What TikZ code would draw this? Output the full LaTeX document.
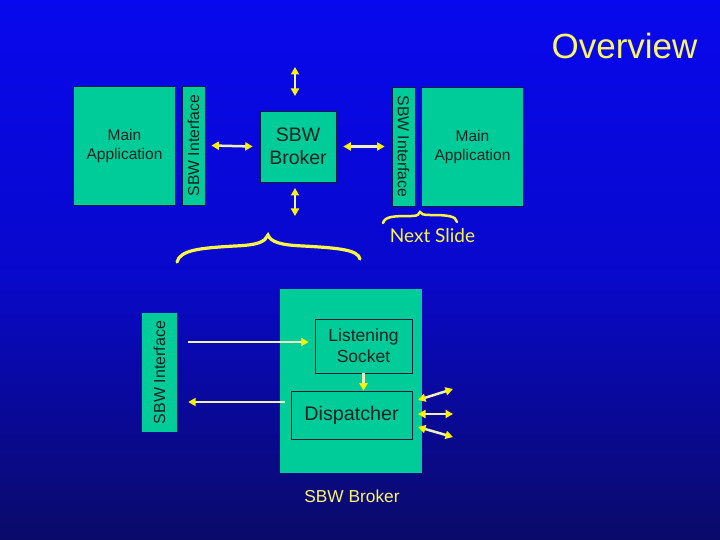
\documentclass[tikz,border=0pt]{standalone}
\usepackage{fontspec}
\setmainfont{Liberation Sans}
\newfontfamily\slidefont{Lato}
\usetikzlibrary{positioning,calc,arrows.meta}
\usepackage{xcolor}
\definecolor{slideblue}{RGB}{8,8,238}
\definecolor{slidenavy}{RGB}{10,10,105}
\definecolor{boxteal}{RGB}{0,204,153}
\definecolor{boxline}{RGB}{10,30,60}
\definecolor{textdark}{RGB}{15,35,35}
\definecolor{braceyellow}{RGB}{250,245,70}
\definecolor{arrowline}{RGB}{238,238,190}
\definecolor{titleyellow}{RGB}{250,245,110}

\begin{document}
\begin{tikzpicture}[
    x=1pt, y=-1pt,
    appbox/.style={rectangle, draw=boxline, fill=boxteal, line width=0.8pt,
                   minimum width=102pt, minimum height=119pt, align=center,
                   text=textdark, font=\fontsize{15.5}{19}\selectfont},
    ifacebox/.style={rectangle, draw=#1, fill=boxteal, line width=0.8pt,
                     minimum width=119pt, minimum height=23pt, inner sep=0pt,
                     text=textdark, font=\fontsize{15.8}{19}\selectfont},
    innerbox/.style={rectangle, draw=boxline, fill=boxteal, line width=0.6pt,
                     align=center, text=textdark, inner sep=0pt},
    dblarrow/.style={{Triangle[length=7.5pt,width=8pt,color=yellow]}-{Triangle[length=7.5pt,width=8pt,color=yellow]},
                     line width=2.5pt, draw=arrowline},
    onearrow/.style={-{Triangle[length=7.5pt,width=8pt,color=yellow]},
                     line width=2.5pt, draw=arrowline},
    bracepath/.style={draw=braceyellow, line width=#1, line cap=round}
]

\useasboundingbox (0,0) rectangle (720,540);
\shade[top color=slideblue, bottom color=slidenavy, middle color=slideblue!75!slidenavy]
    (0,0) rectangle (720,540);

% title
\node[text=titleyellow, font=\fontsize{35}{40}\selectfont] (title) at (624.5,46) {Overview};

% top row
\node[appbox] (leftapp) at (124.5,145.5) {Main\\Application};
\node[ifacebox=boxline, rotate=90] (leftiface) at (193.5,145.5) {SBW Interface};
\node[innerbox, minimum width=76pt, minimum height=71pt,
      font=\fontsize{19.5}{23}\selectfont] (broker) at (298,146.5) {SBW\\Broker};
\node[ifacebox=boxline, rotate=-90] (rightiface) at (403.5,146.5) {SBW Interface};
\node[appbox] (rightapp) at (472.5,146.5) {Main\\Application};

\coordinate (topend) at (295,67);
\coordinate (botend) at (295,216);
\draw[dblarrow] ([xshift=6pt]leftiface.south) -- ([xshift=-7pt]broker.west);
\draw[dblarrow] ([xshift=7pt]broker.east) -- ([xshift=-7pt]rightiface.south);
\draw[dblarrow] (topend) -- (topend |- 0,96);
\draw[dblarrow] (botend |- 0,188) -- (botend);

% braces
\draw[bracepath=2.5pt] (383,223) .. controls (385,216) and (395,216) .. (412,216)
    .. controls (418,216) and (419,214) .. (420,212)
    .. controls (421,214) and (423,215) .. (430,215)
    .. controls (448,215) and (456,216) .. (457,222);
\node[text=braceyellow, font=\slidefont\fontsize{19}{22}\selectfont] (nextslide) at (432.5,236) {Next Slide};
\draw[bracepath=3.2pt] (177,262) .. controls (180,250) and (200,248) .. (235,246)
    .. controls (258,245) and (265,242) .. (268,235)
    .. controls (271,242) and (280,245) .. (303,246)
    .. controls (340,248) and (358,250) .. (360,259);

% broker detail
\node[rectangle, fill=boxteal, minimum width=142pt, minimum height=184pt] (bigbroker) at (351,381) {};
\node[innerbox, minimum width=97pt, minimum height=54pt,
      font=\fontsize{17.5}{21}\selectfont] (lsock) at (363.5,346) {Listening\\Socket};
\node[innerbox, minimum width=121pt, minimum height=48pt,
      font=\fontsize{19.7}{23}\selectfont] (disp) at (351.5,415) {Dispatcher};
\node[rectangle, fill=boxteal, rotate=90, minimum width=119pt, minimum height=35pt,
      inner sep=0pt, text=textdark, font=\fontsize{16}{19}\selectfont] (biface) at (159.5,372.5) {SBW Interface};
\node[text=titleyellow, font=\fontsize{17.3}{20}\selectfont] (brokerlabel) at (352,496) {SBW Broker};

\draw[onearrow] ([xshift=11pt,yshift=4pt]biface.south |- lsock.west) -- ([xshift=-6pt,yshift=4pt]lsock.west);
\draw[onearrow] ([xshift=-6pt,yshift=13pt]disp.west) -- ([xshift=11pt]biface.south |- 0,402);
\draw[onearrow] (lsock.south) -- (lsock.south |- disp.north);

\coordinate (outa) at (453,389);
\coordinate (outb) at (453,414);
\coordinate (outc) at (453,437);
\draw[dblarrow] (418,400) -- (outa);
\draw[dblarrow] (418,414) -- (outb);
\draw[dblarrow] (418,427) -- (outc);

\end{tikzpicture}
\end{document}
